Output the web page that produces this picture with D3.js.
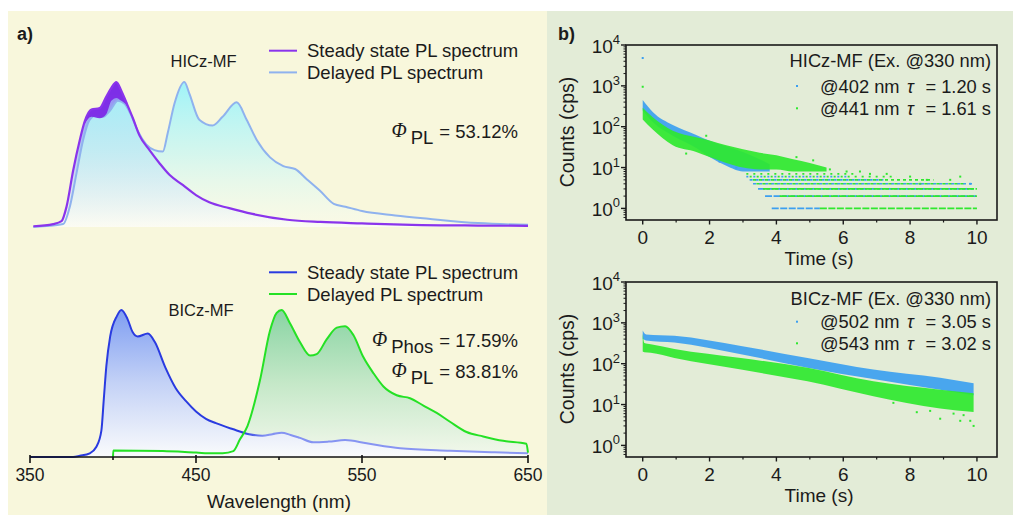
<!DOCTYPE html>
<html>
<head>
<meta charset="utf-8">
<script src="https://cdn.jsdelivr.net/npm/d3@7"></script>
<style>
  body { margin: 0; background: #fff; }
  text { font-family: "Liberation Sans", Arial, sans-serif; fill: #1b1b1b; }
</style>
</head>
<body>
<svg id="fig" width="1015" height="515"></svg>
<script>
// ---------- panel a: spectra (normalised intensity) ----------
const hiczSteadyWl = [352, 364, 369, 372, 376, 380, 383, 387, 392, 396, 399, 402, 405, 408, 412, 416, 422, 428, 434, 442, 450, 458, 470, 484, 505, 525, 550, 580, 620, 650];
const hiczSteadyVal = [0.005, 0.02, 0.04, 0.14, 0.39, 0.60, 0.73, 0.81, 0.82, 0.90, 0.96, 1.0, 0.94, 0.86, 0.75, 0.63, 0.53, 0.44, 0.36, 0.29, 0.22, 0.17, 0.13, 0.09, 0.05, 0.035, 0.025, 0.015, 0.01, 0.008];
const hiczSteadyLowWl = [383, 387, 392, 396, 399, 402, 405, 408, 411];
const hiczSteadyLowVal = [0.71, 0.76, 0.75, 0.78, 0.87, 0.89, 0.87, 0.84, 0.77];
const hiczDelayedWl = [352, 370, 374, 378, 382, 386, 390, 394, 398, 403, 407, 411, 415, 420, 425, 430, 433, 437, 443, 446, 452, 460, 466, 474.5, 480.5, 486.6, 494.6, 502.6, 509.7, 516.7, 524.7, 533, 540, 550, 570, 590, 620, 650];
const hiczDelayedVal = [0, 0.02, 0.14, 0.37, 0.60, 0.74, 0.77, 0.76, 0.80, 0.87, 0.85, 0.77, 0.66, 0.57, 0.53, 0.52, 0.65, 0.85, 1.0, 0.92, 0.74, 0.70, 0.76, 0.86, 0.74, 0.60, 0.48, 0.42, 0.40, 0.33, 0.25, 0.16, 0.14, 0.11, 0.08, 0.057, 0.027, 0.015];

const biczSteadyWl = [350, 376, 380, 386, 390, 393, 394.5, 396, 398.3, 402.4, 405, 408.7, 411.8, 414.9, 421, 425.3, 431.5, 437.7, 444, 450, 456, 462, 472, 482, 490, 496, 501.6, 507, 512.7, 520.7, 530, 539.8, 552.8, 573, 603, 630, 650];
const biczSteadyVal = [0, 0, 0.008, 0.025, 0.07, 0.18, 0.40, 0.62, 0.82, 0.96, 1.0, 0.94, 0.85, 0.82, 0.84, 0.78, 0.61, 0.47, 0.38, 0.31, 0.26, 0.23, 0.19, 0.155, 0.145, 0.155, 0.165, 0.15, 0.13, 0.10, 0.105, 0.115, 0.093, 0.06, 0.043, 0.032, 0.025];
const biczDelayedWl = [400, 400.2, 430, 450, 460, 466, 472.5, 476.5, 481, 488.5, 494.6, 498.6, 501.6, 506.6, 512.7, 518.7, 522.7, 528.7, 534.8, 539.8, 544.8, 550.8, 556.9, 562.9, 570.9, 578.9, 587, 595, 603, 613, 623, 635, 649, 650];
const biczDelayedVal = [0, 0.045, 0.04, 0.03, 0.025, 0.026, 0.04, 0.12, 0.21, 0.52, 0.86, 0.98, 1.0, 0.91, 0.78, 0.69, 0.70, 0.80, 0.88, 0.89, 0.83, 0.68, 0.57, 0.48, 0.42, 0.40, 0.35, 0.30, 0.24, 0.17, 0.14, 0.11, 0.09, 0.03];

const wlTicks = [350, 400, 450, 500, 550, 600, 650];
const wlLabels = [350, 450, 550, 650];

// ---------- panel b: decays (band edges of the scatter, counts) ----------
const hiczT402 = [0, 0.3, 0.9, 1.6, 2.0, 2.5, 3.0, 3.5, 3.8];
const hiczHi402 = [450, 230, 110, 63, 45, 33, 24, 16, 12];
const hiczLo402 = [250, 130, 60, 30, 18, 11, 8, 8, 8];
const hiczT441 = [0, 0.3, 0.9, 1.6, 2.0, 2.5, 3.0, 3.5, 4.0, 4.5, 5.0, 5.5];
const hiczHi441 = [290, 170, 80, 55, 46, 35, 28, 23, 20, 16, 13, 10];
const hiczLo441 = [150, 85, 35, 24, 18, 13, 10, 9, 9, 8, 8, 8];
// quantised count levels: [counts, t start, t end]
const hiczLevels402 = [[1, 3.86, 5.3], [2, 3.66, 10], [3, 3.45, 9.9], [4, 3.3, 9.9], [5, 3.2, 7.2], [6, 3.1, 6.2]];
const hiczLevels441 = [[1, 5.3, 10], [2, 4.1, 10], [3, 3.6, 10], [4, 3.4, 9.6], [5, 3.3, 8.7], [6, 3.2, 7.6], [7, 3.1, 6.4]];
const hiczOut402 = [[0, 4800], [9.8, 4], [8.3, 4], [2.3, 14], [2.8, 10]];
const hiczOut441 = [[0, 950], [5.6, 9], [6.1, 8], [6.8, 7], [7.3, 7], [8.0, 6], [9.5, 6], [9.2, 5], [8.5, 5], [6.5, 8], [1.3, 22], [1.9, 60], [4.6, 18], [5.1, 15]];

const biczT502 = [0, 0.1, 0.95, 2.94, 4.93, 6.9, 8.9, 9.9];
const biczHi502 = [650, 520, 480, 270, 138, 72, 45, 33];
const biczLo502 = [400, 370, 330, 170, 80, 42, 23, 17];
const biczT543 = [0, 0.05, 0.24, 0.95, 2.94, 4.93, 6.9, 8.9, 9.9];
const biczHi543 = [540, 320, 300, 230, 138, 80, 37, 23, 19];
const biczLo543 = [200, 190, 186, 138, 72, 37, 16, 8, 6.6];
const biczOut543 = [[9.9, 3], [9.5, 4], [8.9, 4.5], [9.6, 5.5], [9.3, 6], [8.2, 6.5], [9.8, 4], [7.5, 11], [8.6, 7]];

const timeTicks = [0, 2, 4, 6, 8, 10];
const timeMinor = [1, 3, 5, 7, 9];
const countExp = [0, 1, 2, 3, 4];

const zip = (xs, ys) => xs.map((x, i) => [x, ys[i]]);
const zip3 = (xs, hi, lo) => xs.map((x, i) => [x, hi[i], lo[i]]);

const svg = d3.select("#fig");
const defs = svg.append("defs");

function vGrad(id, stops) {
  const g = defs.append("linearGradient").attr("id", id)
    .attr("x1", 0).attr("y1", 0).attr("x2", 0).attr("y2", 1);
  stops.forEach(([o, c, op]) => g.append("stop").attr("offset", o).attr("stop-color", c).attr("stop-opacity", op));
}
vGrad("gPurple", [[0, "#8c86f2", 1], [0.45, "#b3c9f1", 1], [1, "#fbfbf3", 1]]);
vGrad("gCyan", [[0, "#9ff3f8", 1], [0.5, "#c9f6f3", 0.75], [1, "#fdfdf2", 0.4]]);
vGrad("gBlue", [[0, "#7f9ef2", 1], [0.5, "#c4d2f6", 1], [1, "#fafbfc", 1]]);
vGrad("gGreen", [[0, "#89d4a3", 1], [0.5, "#c5e8c8", 1], [1, "#f3f8ec", 1]]);

// backgrounds
svg.append("rect").attr("x", 8).attr("y", 11).attr("width", 539).attr("height", 504).attr("fill", "#f8f7dc");
svg.append("rect").attr("x", 547).attr("y", 11).attr("width", 466).attr("height", 504).attr("fill", "#e3ecd7");

// ---------- panel a ----------
const xW = d3.scaleLinear().domain([350, 650]).range([30, 528]);
const yTop = d3.scaleLinear().domain([0, 1]).range([227, 82]);
const yBot = d3.scaleLinear().domain([0, 1]).range([457, 310]);

const sGrad = defs.append("linearGradient").attr("id", "gBlueLine")
  .attr("gradientUnits", "userSpaceOnUse").attr("x1", xW(350)).attr("x2", xW(650)).attr("y1", 0).attr("y2", 0);
sGrad.append("stop").attr("offset", (xW(478) - 30) / 498).attr("stop-color", "#2a3be0");
sGrad.append("stop").attr("offset", (xW(492) - 30) / 498).attr("stop-color", "#8392f2");
sGrad.append("stop").attr("offset", 1).attr("stop-color", "#8c98f2");

function spectrum(g, y, data, fill, stroke, sw) {
  const area = d3.area().curve(d3.curveMonotoneX).x(d => xW(d[0])).y0(y(0)).y1(d => y(d[1]));
  const line = d3.line().curve(d3.curveMonotoneX).x(d => xW(d[0])).y(d => y(d[1]));
  if (fill) g.append("path").attr("d", area(data)).attr("fill", fill);
  return () => g.append("path").attr("d", line(data)).attr("fill", "none")
    .attr("stroke", stroke).attr("stroke-width", sw).attr("stroke-linejoin", "round");
}

const pa = svg.append("g");
const hs = zip(hiczSteadyWl, hiczSteadyVal);
const hd = zip(hiczDelayedWl, hiczDelayedVal);
const drawHs = spectrum(pa, yTop, hs, "url(#gPurple)", "#8a34ec", 2.2);
const drawHd = spectrum(pa, yTop, hd, "url(#gCyan)", "#8fb2ee", 2);
drawHd();
// noisy purple band near the first peak
const lowMap = zip(hiczSteadyLowWl, hiczSteadyLowVal);
const bandPts = lowMap.map(([w, lo]) => {
  const hi = d3.scaleLinear().domain(hiczSteadyWl).range(hiczSteadyVal)(w);
  return [w, lo, hi];
});
pa.append("path")
  .attr("d", d3.area().curve(d3.curveMonotoneX).x(d => xW(d[0])).y0(d => yTop(d[1])).y1(d => yTop(d[2]))(bandPts))
  .attr("fill", "#7b24e6").attr("opacity", 0.9);
drawHs();

const bs = zip(biczSteadyWl, biczSteadyVal);
const bd = zip(biczDelayedWl, biczDelayedVal);
const drawBd = spectrum(pa, yBot, bd, "url(#gGreen)", "#25e125", 2);
const drawBs = spectrum(pa, yBot, bs, "url(#gBlue)", "url(#gBlueLine)", 2);
drawBs();
drawBd();

// x axis (wavelength)
const ax = pa.append("g");
ax.append("line").attr("x1", xW(350)).attr("x2", xW(650)).attr("y1", 457).attr("y2", 457)
  .attr("stroke", "#111").attr("stroke-width", 1.6);
ax.selectAll(".tk").data(wlTicks).enter().append("line")
  .attr("x1", d => xW(d)).attr("x2", d => xW(d))
  .attr("y1", d => wlLabels.includes(d) ? 455 : 457)
  .attr("y2", d => wlLabels.includes(d) ? 463 : 460)
  .attr("stroke", "#111").attr("stroke-width", 1.6);
ax.selectAll(".tl").data(wlLabels).enter().append("text")
  .attr("x", d => xW(d)).attr("y", 481).attr("text-anchor", "middle")
  .attr("font-size", 17.5).text(d => d);
ax.append("text").attr("x", 279).attr("y", 508).attr("text-anchor", "middle")
  .attr("font-size", 19).text("Wavelength (nm)");

pa.append("text").attr("x", 17).attr("y", 40).attr("font-size", 18).attr("font-weight", "bold").text("a)");

function legendA(y0, items) {
  items.forEach(([label, color], i) => {
    const y = y0 + i * 21.7;
    pa.append("line").attr("x1", 269).attr("x2", 297).attr("y1", y).attr("y2", y)
      .attr("stroke", color).attr("stroke-width", 2);
    pa.append("text").attr("x", 307).attr("y", y + 6.5).attr("font-size", 18.5).text(label);
  });
}
legendA(50.7, [["Steady state PL spectrum", "#8a34ec"], ["Delayed PL spectrum", "#8fb2ee"]]);
legendA(272.3, [["Steady state PL spectrum", "#2a3be0"], ["Delayed PL spectrum", "#25e125"]]);

pa.append("text").attr("x", 203.5).attr("y", 66.5).attr("text-anchor", "middle").attr("font-size", 16.5).text("HICz-MF");
pa.append("text").attr("x", 201).attr("y", 316).attr("text-anchor", "middle").attr("font-size", 16.5).text("BICz-MF");

function phi(y, sub, value) {
  const t = pa.append("text").attr("x", 518).attr("y", y).attr("text-anchor", "end").attr("font-size", 18.5);
  t.append("tspan").attr("font-family", "'Liberation Serif', 'DejaVu Serif', serif").attr("font-style", "italic")
    .attr("font-size", 20).attr("dy", -1).text("\u03A6");
  t.append("tspan").attr("dx", 4).attr("dy", 7).text(sub);
  t.append("tspan").attr("dx", 6).attr("dy", -6).text("= " + value);
}
phi(138, "PL", "53.12%");
phi(346.5, "Phos", "17.59%");
phi(378, "PL", "83.81%");

// ---------- panel b ----------
const xT = d3.scaleLinear().domain([-0.5, 10.6]).range([626, 997]);
const blueC = "#3c9ff0";
const greenC = "#2fe82f";

function decayPanel(top, cfg) {
  const bottom = top + 175;
  const y = d3.scaleLog().domain([0.52, 1e4]).range([bottom, top]);
  const g = svg.append("g");
  const band = d3.area().curve(d3.curveMonotoneX).x(d => xT(d[0])).y0(d => y(d[2])).y1(d => y(d[1]));

  cfg.series.forEach(s => {
    g.append("path").attr("d", band(s.band)).attr("fill", s.color).attr("fill-opacity", 0.92);
    (s.levels || []).forEach(([c, t0, t1]) => {
      g.append("line").attr("x1", xT(t0)).attr("x2", xT(t1)).attr("y1", y(c)).attr("y2", y(c))
        .attr("stroke", s.color).attr("stroke-width", 1.6)
        .attr("stroke-dasharray", c <= 3 ? "7 1.5" : (c <= 5 ? "3 3" : "2 5"));
    });
    g.selectAll(null).data(s.out || []).enter().append("rect")
      .attr("x", d => xT(d[0]) - 1).attr("y", d => y(d[1]) - 1)
      .attr("width", 2).attr("height", 2).attr("fill", s.color);
  });

  // frame
  g.append("rect").attr("x", 626).attr("y", top).attr("width", 371).attr("height", 175)
    .attr("fill", "none").attr("stroke", "#1a1a1a").attr("stroke-width", 1.6);
  // x ticks
  g.selectAll(null).data(timeTicks).enter().append("line")
    .attr("x1", d => xT(d)).attr("x2", d => xT(d)).attr("y1", bottom).attr("y2", bottom + 4.5)
    .attr("stroke", "#1a1a1a").attr("stroke-width", 1.4);
  g.selectAll(null).data(timeMinor).enter().append("line")
    .attr("x1", d => xT(d)).attr("x2", d => xT(d)).attr("y1", bottom).attr("y2", bottom + 2.5)
    .attr("stroke", "#1a1a1a").attr("stroke-width", 1.2);
  g.selectAll(null).data(timeTicks).enter().append("text")
    .attr("x", d => xT(d)).attr("y", bottom + 23.5).attr("text-anchor", "middle")
    .attr("font-size", 19).text(d => d);
  g.append("text").attr("x", 819).attr("y", bottom + 45).attr("text-anchor", "middle")
    .attr("font-size", 19).text("Time (s)");
  // y ticks (log)
  const minor = [];
  countExp.slice(0, -1).forEach(e => d3.range(2, 10).forEach(m => minor.push(m * Math.pow(10, e))));
  minor.push(0.6, 0.7, 0.8, 0.9);
  g.selectAll(null).data(minor).enter().append("line")
    .attr("x1", 626).attr("x2", 623.5).attr("y1", d => y(d)).attr("y2", d => y(d))
    .attr("stroke", "#1a1a1a").attr("stroke-width", 1);
  g.selectAll(null).data(countExp).enter().append("line")
    .attr("x1", 626).attr("x2", 621).attr("y1", d => y(Math.pow(10, d))).attr("y2", d => y(Math.pow(10, d)))
    .attr("stroke", "#1a1a1a").attr("stroke-width", 1.4);
  const lab = g.selectAll(null).data(countExp).enter().append("text")
    .attr("x", 620).attr("y", d => y(Math.pow(10, d)) + 7.5).attr("text-anchor", "end").attr("font-size", 19);
  lab.append("tspan").text("10");
  lab.append("tspan").attr("font-size", 13).attr("dy", -8.5).text(d => d);
  g.append("text").attr("transform", `translate(574,${top + 87}) rotate(-90)`)
    .attr("text-anchor", "middle").attr("font-size", 19.5).text("Counts (cps)");

  // legend
  g.append("text").attr("x", 991).attr("y", cfg.legendY[0] + 6.5).attr("text-anchor", "end")
    .attr("font-size", 18.3).text(cfg.title);
  cfg.series.forEach((s, i) => {
    const ly = cfg.legendY[i + 1];
    g.append("rect").attr("x", 796).attr("y", ly - 1).attr("width", 2).attr("height", 2).attr("fill", s.color);
    g.append("text").attr("x", 820).attr("y", ly + 6.5).attr("font-size", 18.3).text(s.label);
    g.append("text").attr("x", 907).attr("y", ly + 6.5).attr("font-size", 18)
      .attr("font-family", "'Liberation Serif', 'DejaVu Serif', serif").attr("font-style", "italic").text("\u03C4");
    g.append("text").attr("x", 991).attr("y", ly + 6.5).attr("text-anchor", "end").attr("font-size", 18.3).text(s.tau);
  });
}

decayPanel(45, {
  title: "HICz-MF (Ex. @330 nm)",
  legendY: [60.7, 86, 108.3],
  series: [
    { label: "@402 nm", tau: "= 1.20 s", color: blueC, band: zip3(hiczT402, hiczHi402, hiczLo402), levels: hiczLevels402, out: hiczOut402 },
    { label: "@441 nm", tau: "= 1.61 s", color: greenC, band: zip3(hiczT441, hiczHi441, hiczLo441), levels: hiczLevels441, out: hiczOut441 }
  ]
});
decayPanel(282, {
  title: "BICz-MF (Ex. @330 nm)",
  legendY: [298.3, 321.7, 343.3],
  series: [
    { label: "@502 nm", tau: "= 3.05 s", color: blueC, band: zip3(biczT502, biczHi502, biczLo502) },
    { label: "@543 nm", tau: "= 3.02 s", color: greenC, band: zip3(biczT543, biczHi543, biczLo543), out: biczOut543 }
  ]
});

svg.append("text").attr("x", 558).attr("y", 39.5).attr("font-size", 18).attr("font-weight", "bold").text("b)");
</script>
</body>
</html>
